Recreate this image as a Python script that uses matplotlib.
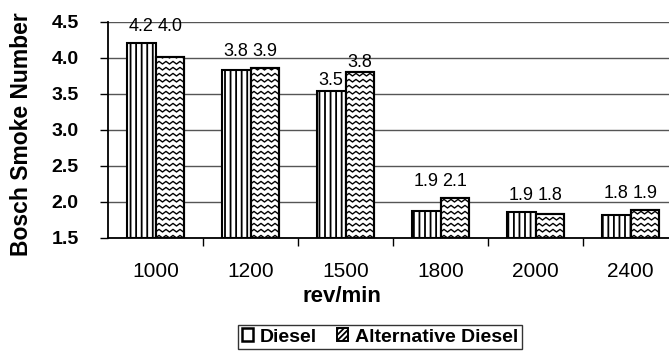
import numpy as np
import matplotlib
matplotlib.use("Agg")
import matplotlib.pyplot as plt
from matplotlib.patches import Patch

plt.rcParams['font.family'] = ['Liberation Sans', 'DejaVu Sans']
plt.rcParams['hatch.linewidth'] = 1.3

categories = ["1000", "1200", "1500", "1800", "2000", "2400"]
diesel = [4.21, 3.84, 3.54, 1.88, 1.86, 1.82]
alt_diesel = [4.01, 3.86, 3.80, 2.06, 1.84, 1.89]
series_names = ["Diesel", "Alternative Diesel"]
yticks = [1.5, 2.0, 2.5, 3.0, 3.5, 4.0, 4.5]

W, H = 669, 354
fig = plt.figure(figsize=(W / 100, H / 100), dpi=100)
left_px, right_px, top_px, bot_px = 108, 678, 22, 238
ax = fig.add_axes([left_px / W, 1 - bot_px / H, (right_px - left_px) / W, (bot_px - top_px) / H])

n = len(categories)
x = np.arange(n)
bw = 0.3
ymin, ymax = 1.5, 4.5

b1 = ax.bar(x - bw / 2, np.array(diesel) - ymin, bw, bottom=ymin, facecolor='white',
            edgecolor='black', linewidth=1.5, hatch='|||', zorder=3)
b2 = ax.bar(x + bw / 2, np.array(alt_diesel) - ymin, bw, bottom=ymin, facecolor='white',
            edgecolor='black', linewidth=1.5, zorder=3)

# zigzag fill for alternative diesel bars
px_x = (right_px - left_px) / n  # pixels per category unit
px_y = (bot_px - top_px) / (ymax - ymin)
period_x = 7.0 / px_x
row_y = 6.0 / px_y
amp = 2.6 / px_y
for rect in b2:
    x0, y0 = rect.get_x(), rect.get_y()
    w, h = rect.get_width(), rect.get_height()
    xs = np.arange(x0 - period_x, x0 + w + period_x, period_x / 2)
    zig = np.where(np.arange(len(xs)) % 2 == 0, 0.0, 1.0) * amp
    yy = y0 - row_y
    while yy < y0 + h + row_y:
        ln, = ax.plot(xs, yy + zig, color='black', lw=1.0, zorder=3.5)
        ln.set_clip_path(rect)
        yy += row_y
    ax.add_patch(plt.Rectangle((x0, y0), w, h, fill=False, edgecolor='black', lw=1.5, zorder=4))

# data labels
for i in range(n):
    d, a = diesel[i], alt_diesel[i]
    if abs(d - a) < 0.22:
        yd = ya = max(d, a) + 0.23
    else:
        yd, ya = d + 0.15, a + 0.14
    ax.text(x[i] - bw / 2, yd, f"{d:.1f}", ha='center', va='center', fontsize=13, zorder=5)
    ax.text(x[i] + bw / 2, ya, f"{a:.1f}", ha='center', va='center', fontsize=13, zorder=5)

ax.set_xlim(-0.5, n - 0.5)
ax.set_ylim(ymin, ymax)
ax.set_yticks(yticks)
ax.set_yticklabels([f"{v:.1f}" for v in yticks], fontsize=14, fontweight='bold')
ax.set_xticks(x)
ax.set_xticklabels(categories, fontsize=15)
ax.set_xticks(np.arange(0.5, n, 1.0), minor=True)
ax.tick_params(axis='x', which='major', length=0, pad=17)
ax.tick_params(axis='x', which='minor', length=6, direction='out', width=1)
ax.tick_params(axis='y', length=6, direction='out', width=1, pad=15)
ax.yaxis.grid(True, color='#555555', lw=1.0, zorder=0)
ax.set_axisbelow(True)
for s in ['top', 'right']:
    ax.spines[s].set_visible(False)
ax.spines['left'].set_linewidth(1.3)
ax.spines['bottom'].set_linewidth(1.3)

ax.set_ylabel("Bosch Smoke Number", fontsize=16.5, fontweight='bold')
ax.yaxis.set_label_coords((33 - left_px) / (right_px - left_px), (bot_px - 134) / (bot_px - top_px))
ax.set_xlabel("rev/min", fontsize=16, fontweight='bold')
ax.xaxis.set_label_coords((342 - left_px) / (right_px - left_px), -(286 - bot_px) / (bot_px - top_px))

handles = [Patch(facecolor='white', edgecolor='black', lw=1.8, label=series_names[0]),
           Patch(facecolor='white', edgecolor='black', lw=1.4, hatch='//////', label=series_names[1])]
leg = fig.legend(handles=handles, loc='center', bbox_to_anchor=(380 / W, 1 - 337 / H), ncol=2,
                 frameon=True, fancybox=False, edgecolor='black', handlelength=0.6, handleheight=0.6,
                 handletextpad=0.35, columnspacing=1.0, borderpad=0.2,
                 prop={'weight': 'bold', 'size': 14})
leg.get_frame().set_linewidth(1.0)

fig.savefig("out.png", dpi=100)
